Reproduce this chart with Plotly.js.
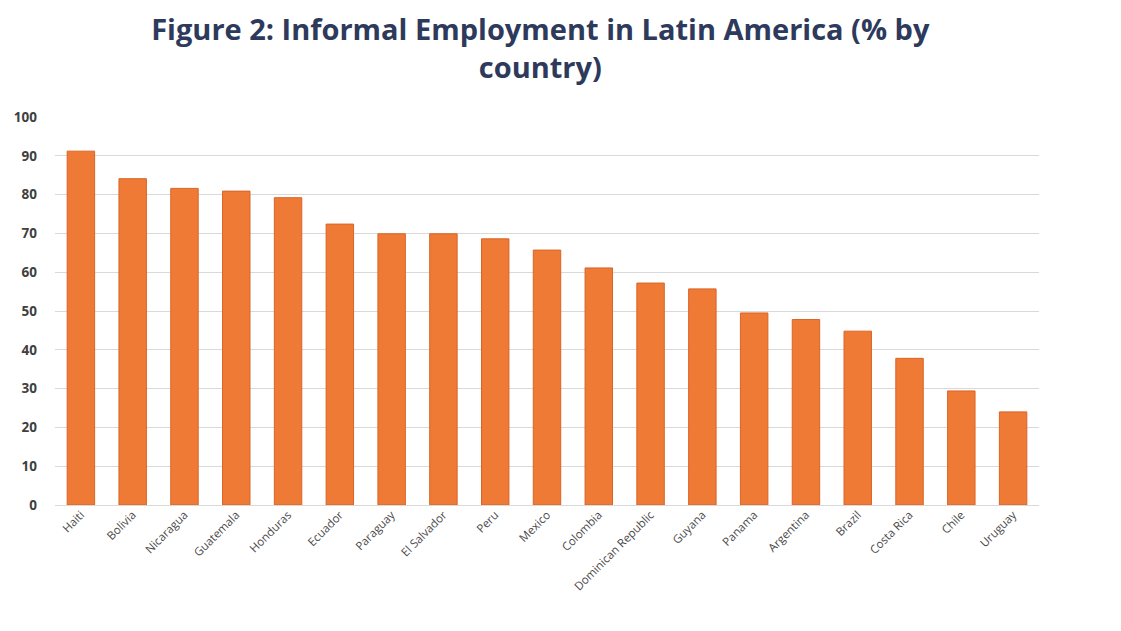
<!DOCTYPE html>
<html>
<head>
<meta charset="utf-8">
<script src="https://cdn.plot.ly/plotly-3.0.1.min.js"></script>
<style>html,body{margin:0;padding:0;background:#fff;}#chart{width:1121px;height:631px;}</style>
</head>
<body>
<div id="chart"></div>
<script>
const countries = ["Haiti","Bolivia","Nicaragua","Guatemala","Honduras","Ecuador","Paraguay","El Salvador","Peru","Mexico","Colombia","Dominican Republic","Guyana","Panama","Argentina","Brazil","Costa Rica","Chile","Uruguay"];
const informalShare = [91.2,84.1,81.6,80.9,79.2,72.4,69.9,69.9,68.6,65.7,61.1,57.2,55.7,49.5,47.8,44.8,37.8,29.4,24.0];
const yTicks = [0,10,20,30,40,50,60,70,80,90,100];

const trace = {
  type: "bar",
  x: countries,
  y: informalShare,
  marker: {color: "#EE7A35", line: {color: "#DA6426", width: 1}},
  hoverinfo: "x+y"
};

const layout = {
  width: 1121, height: 631,
  margin: {l: 55, r: 82, t: 117, b: 126},
  paper_bgcolor: "#ffffff", plot_bgcolor: "#ffffff",
  bargap: 0.47,
  showlegend: false,
  title: {
    text: "<b>Figure 2: Informal Employment in Latin America (% by<br>country)</b>",
    font: {family: "Open Sans, sans-serif", size: 29, color: "#2E3A5C"},
    x: 0.482, xref: "container", xanchor: "center",
    y: 0.936, yref: "container", yanchor: "top"
  },
  xaxis: {
    tickangle: -45,
    tickfont: {family: "Open Sans, sans-serif", size: 11.5, color: "#4A4A4A"},
    showgrid: false, showline: false, ticks: ""
  },
  yaxis: {
    range: [0, 100],
    tickvals: yTicks,
    tickfont: {family: "Open Sans, sans-serif", size: 13.5, color: "#404040", weight: "bold"},
    gridcolor: "#D9D9D9", gridwidth: 1,
    zeroline: true, zerolinecolor: "#D9D9D9", zerolinewidth: 1,
    showline: false, ticks: "", ticklabelstandoff: 17
  }
};

Plotly.newPlot("chart", [trace], layout, {displayModeBar: false, staticPlot: true});
</script>
</body>
</html>
